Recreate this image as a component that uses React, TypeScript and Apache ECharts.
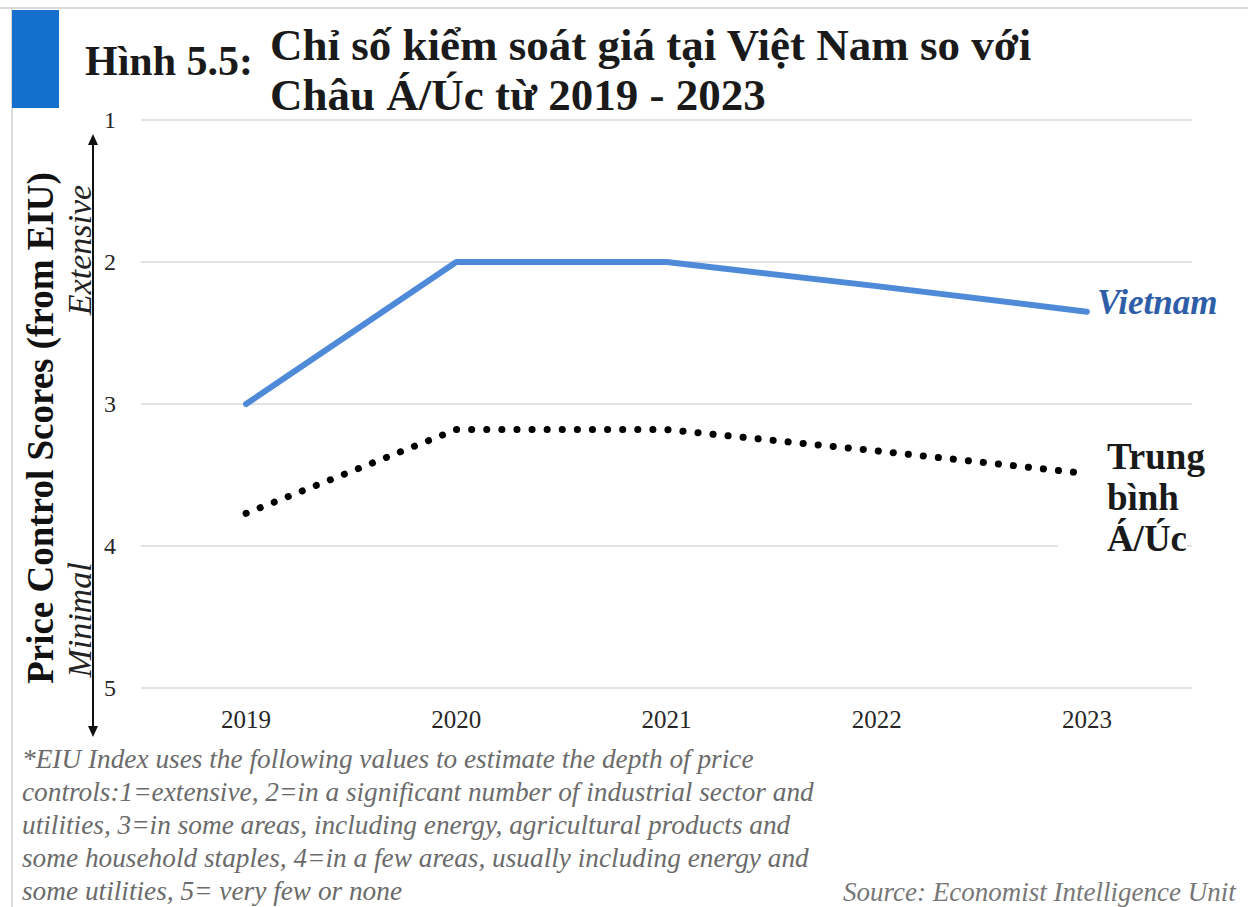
import React, { useEffect, useRef } from "react";
import * as echarts from "echarts";

const years = ["2019", "2020", "2021", "2022", "2023"];
const vietnam = [3, 2, 2, 2.17, 2.35];
const asiaAustraliaAvg = [3.77, 3.18, 3.18, 3.33, 3.49];
const yMin = 1;
const yMax = 5;
const yInterval = 1;

const titleLabel = "Hình 5.5:";
const titleLine1 = "Chỉ số kiểm soát giá tại Việt Nam so với";
const titleLine2 = "Châu Á/Úc từ 2019 - 2023";
const yAxisTitle = "Price Control Scores (from EIU)";
const topHint = "Extensive";
const bottomHint = "Minimal";
const seriesNames = ["Vietnam", "Trung bình Á/Úc"];
const avgLabelLines = ["Trung", "bình", "Á/Úc"];
const footnoteLines = [
  "*EIU Index uses the following values to estimate the depth of price",
  "controls:1=extensive, 2=in a significant number of industrial sector and",
  "utilities, 3=in some areas, including energy, agricultural products and",
  "some household staples, 4=in a few areas, usually including energy and",
  "some utilities, 5= very few or none",
];
const sourceText = "Source: Economist Intelligence Unit";

const SERIF = "'Liberation Serif', 'DejaVu Serif', serif";

export default function App() {
  const ref = useRef<HTMLDivElement>(null);
  useEffect(() => {
    if (!ref.current) return;
    const chart = echarts.init(ref.current, null, { renderer: "svg" });
    const footGraphics = footnoteLines.map((t, i) => ({
      type: "text",
      left: 22,
      top: 745 + i * 33,
      style: {
        text: t,
        fontFamily: SERIF,
        fontStyle: "italic",
        fontSize: 27.3,
        fill: "#6b6b6b",
      },
    }));
    const richBase = {
      fontFamily: SERIF,
      fontWeight: "bold",
      fontSize: 37,
      lineHeight: 41,
      color: "#1a1a1a",
      padding: [0, 0, 0, 49],
    };
    chart.setOption({
      animation: false,
      backgroundColor: "#ffffff",
      grid: { left: 141, right: 56, top: 120, bottom: 219, containLabel: false },
      xAxis: {
        type: "category",
        data: years,
        boundaryGap: true,
        axisLine: { show: false },
        axisTick: { show: false },
        axisLabel: {
          fontFamily: SERIF,
          fontSize: 25,
          color: "#262626",
          margin: 19,
        },
      },
      yAxis: {
        type: "value",
        inverse: true,
        min: yMin,
        max: yMax,
        interval: yInterval,
        axisLine: { show: false },
        axisTick: { show: false },
        axisLabel: {
          fontFamily: SERIF,
          fontSize: 24,
          color: "#262626",
          margin: 25,
        },
        splitLine: { lineStyle: { color: "#d9d9d9", width: 1.5 } },
      },
      series: [
        {
          name: seriesNames[0],
          type: "line",
          data: vietnam,
          symbol: "none",
          lineStyle: { color: "#4f8ad9", width: 6, cap: "round", join: "round" },
          endLabel: {
            show: true,
            formatter: seriesNames[0],
            fontFamily: SERIF,
            fontStyle: "italic",
            fontWeight: "bold",
            fontSize: 35,
            color: "#2f5ea8",
            distance: 10,
            offset: [0, -9],
          },
          z: 3,
        },
        {
          name: seriesNames[1],
          type: "line",
          data: asiaAustraliaAvg,
          symbol: "none",
          lineStyle: { color: "#000000", width: 7, type: [0.1, 15], cap: "round" },
          endLabel: {
            show: true,
            formatter: `{a|${avgLabelLines[0]}}\n{a|${avgLabelLines[1]}}\n{b|${avgLabelLines[2]}}`,
            rich: {
              a: { ...richBase },
              b: { ...richBase, backgroundColor: "#ffffff" },
            },
            distance: -29,
            offset: [0, 24],
          },
          z: 3,
        },
      ],
      graphic: [
        { type: "line", shape: { x1: 0, y1: 8, x2: 1248, y2: 8 }, style: { stroke: "#d0d0d0", lineWidth: 1.5 } },
        { type: "line", shape: { x1: 12, y1: 8, x2: 12, y2: 907 }, style: { stroke: "#d0d0d0", lineWidth: 1.5 } },
        { type: "rect", shape: { x: 12, y: 10, width: 47, height: 98 }, style: { fill: "#1470cc" } },
        {
          type: "text",
          left: 85,
          top: 40,
          style: { text: titleLabel, fontFamily: SERIF, fontWeight: "bold", fontSize: 42, fill: "#1a1a1a" },
        },
        {
          type: "text",
          left: 270,
          top: 22,
          style: { text: titleLine1, fontFamily: SERIF, fontWeight: "bold", fontSize: 45, fill: "#1a1a1a" },
        },
        {
          type: "text",
          left: 270,
          top: 72,
          style: { text: titleLine2, fontFamily: SERIF, fontWeight: "bold", fontSize: 45, fill: "#1a1a1a" },
        },
        {
          type: "text",
          x: 40,
          y: 428,
          rotation: Math.PI / 2,
          style: {
            text: yAxisTitle,
            fontFamily: SERIF,
            fontWeight: "bold",
            fontSize: 37,
            fill: "#111111",
            align: "center",
            verticalAlign: "middle",
          },
        },
        {
          type: "text",
          x: 79,
          y: 250,
          rotation: Math.PI / 2,
          style: {
            text: topHint,
            fontFamily: SERIF,
            fontStyle: "italic",
            fontSize: 34,
            fill: "#222222",
            align: "center",
            verticalAlign: "middle",
          },
        },
        {
          type: "text",
          x: 79,
          y: 620,
          rotation: Math.PI / 2,
          style: {
            text: bottomHint,
            fontFamily: SERIF,
            fontStyle: "italic",
            fontSize: 34,
            fill: "#222222",
            align: "center",
            verticalAlign: "middle",
          },
        },
        { type: "line", shape: { x1: 93, y1: 142, x2: 93, y2: 730 }, style: { stroke: "#111111", lineWidth: 2 } },
        { type: "polygon", shape: { points: [[93, 134], [88, 145], [98, 145]] }, style: { fill: "#111111" } },
        { type: "polygon", shape: { points: [[93, 737], [88, 726], [98, 726]] }, style: { fill: "#111111" } },
        ...footGraphics,
        {
          type: "text",
          left: 843,
          top: 878,
          style: {
            text: sourceText,
            fontFamily: SERIF,
            fontStyle: "italic",
            fontSize: 27,
            fill: "#777777",
          },
        },
      ],
    });
    return () => chart.dispose();
  }, []);
  return (
    <div
      ref={ref}
      style={{ position: "fixed", left: 0, top: 0, width: 1248, height: 907, background: "#fff" }}
    />
  );
}
